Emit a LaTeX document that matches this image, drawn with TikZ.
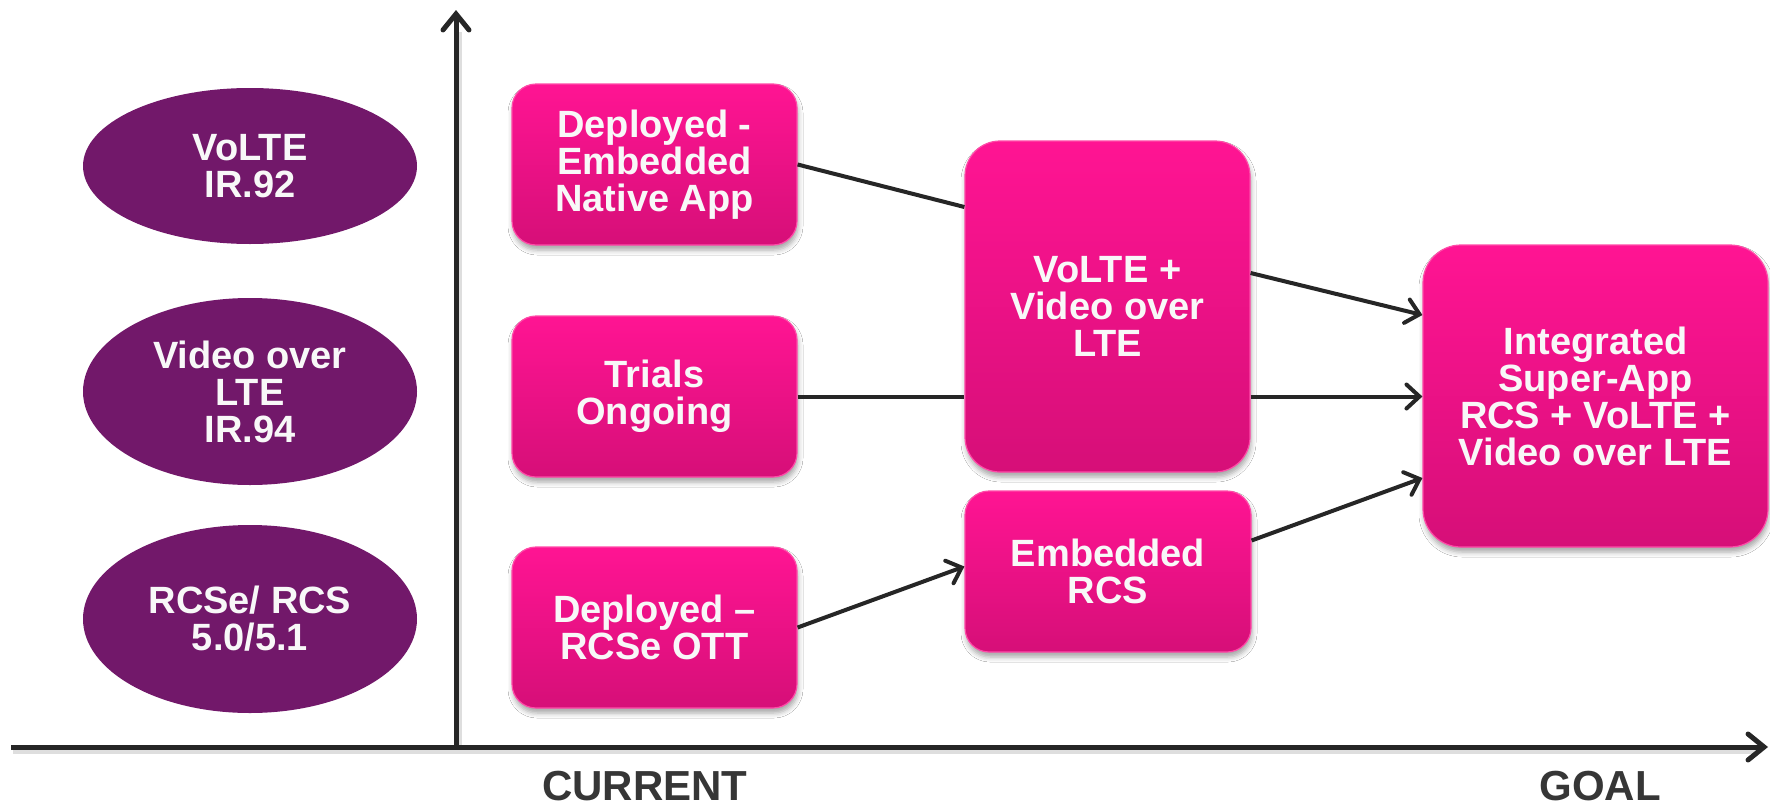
\documentclass[tikz,border=0pt]{standalone}
\usepackage{fontspec}
\setmainfont{Liberation Sans}
\usetikzlibrary{arrows.meta,shapes.geometric,shadows.blur,calc}

\definecolor{plum}{HTML}{72186A}
\definecolor{pinktop}{HTML}{FF1493}
\definecolor{pinkbot}{HTML}{D60F78}
\definecolor{pinkedge}{HTML}{FF4AA8}
\definecolor{ink}{HTML}{262626}
\definecolor{labelgray}{HTML}{363636}
\definecolor{paper}{HTML}{F8F8F8}

\begin{document}
\begin{tikzpicture}[x=1pt,y=-1pt,
  boxtext/.style={text=paper, align=center, inner sep=0pt,
    font=\bfseries\fontsize{38}{37}\selectfont},
  stage/.style={boxtext, rectangle, rounded corners=24pt,
    draw=pinkedge, line width=1.2pt,
    top color=pinktop, bottom color=pinkbot,
    blur shadow={shadow xshift=1pt, shadow yshift=-5pt,
      shadow blur radius=5pt, shadow opacity=35}},
  standard/.style={boxtext, ellipse, fill=plum},
  conn/.style={draw=ink, line width=4pt},
  tip/.style={-{Straight Barb[length=13pt,width=24pt,line cap=round]}},
  axis/.style={draw=ink, line width=5pt,
    -{Straight Barb[length=16pt,width=26pt,line cap=round]}},
  axisshade/.style={draw=black!25, line width=6pt, opacity=0.5},
  axislabel/.style={text=labelgray, inner sep=0pt,
    font=\bfseries\fontsize{42}{44}\selectfont},
]
% page
\fill[white] (0,0) rectangle (1770,806);
\useasboundingbox (0,0) rectangle (1770,806);

% axes
\coordinate (origin) at (456,747);
\coordinate (ytop) at (456,10);
\coordinate (xleft) at (11,747);
\coordinate (xright) at (1768,747);
\draw[axisshade] ($(xleft)+(2,4)$) -- ($(xright)+(-10,4)$);
\draw[axisshade] ($(origin)+(3,0)$) -- ($(ytop)+(3,22)$);
\draw[axis] (origin) -- (ytop);
\draw[axis] (xleft) -- (xright);

\node[axislabel] (current) at (645,786) {CURRENT};
\node[axislabel] (goal) at (1600,786) {GOAL};

% standards
\node[standard, minimum width=334pt, minimum height=156pt] (s1) at (250,166)
  {VoLTE\\IR.92};
\node[standard, minimum width=334pt, minimum height=187pt] (s2) at (250,391.5)
  {Video over\\LTE\\IR.94};
\node[standard, minimum width=334pt, minimum height=188pt] (s3) at (250,619)
  {RCSe/ RCS\\5.0/5.1};

% current state
\node[stage, minimum width=285pt, minimum height=161pt] (A) at (654.5,164.5)
  {Deployed -\\Embedded\\Native App};
\node[stage, minimum width=285pt, minimum height=161pt] (B) at (654.5,396.5)
  {Trials\\Ongoing};
\node[stage, minimum width=285pt, minimum height=161pt] (C) at (654.5,627.5)
  {Deployed –\\RCSe OTT};

% intermediate steps
\node[stage, rounded corners=35pt, minimum width=285pt, minimum height=331pt]
  (D) at (1107.5,306.5) {VoLTE +\\Video over\\LTE};
\node[stage, minimum width=286pt, minimum height=161pt] (E) at (1108,571.5)
  {Embedded\\RCS};

% goal
\node[stage, rounded corners=38pt, minimum width=345pt, minimum height=302pt]
  (F) at (1595.5,396) {Integrated\\Super-App\\RCS + VoLTE +\\Video over LTE};

% connectors
\draw[conn] (A.east) -- ($(D.west)+(0,-99.5)$);
\draw[conn, tip] ($(D.east)+(0,-33.5)$) -- ($(F.west)+(0,-81)$);
\draw[conn] (B.east) -- (D.west |- B.east);
\draw[conn, tip] (D.east |- B.east) -- (F.west |- B.east);
\draw[conn, tip] (C.east) -- ($(E.west)+(0,-5)$);
\draw[conn, tip] ($(E.east)+(0,-31)$) -- ($(F.west)+(0,82)$);
\end{tikzpicture}
\end{document}
